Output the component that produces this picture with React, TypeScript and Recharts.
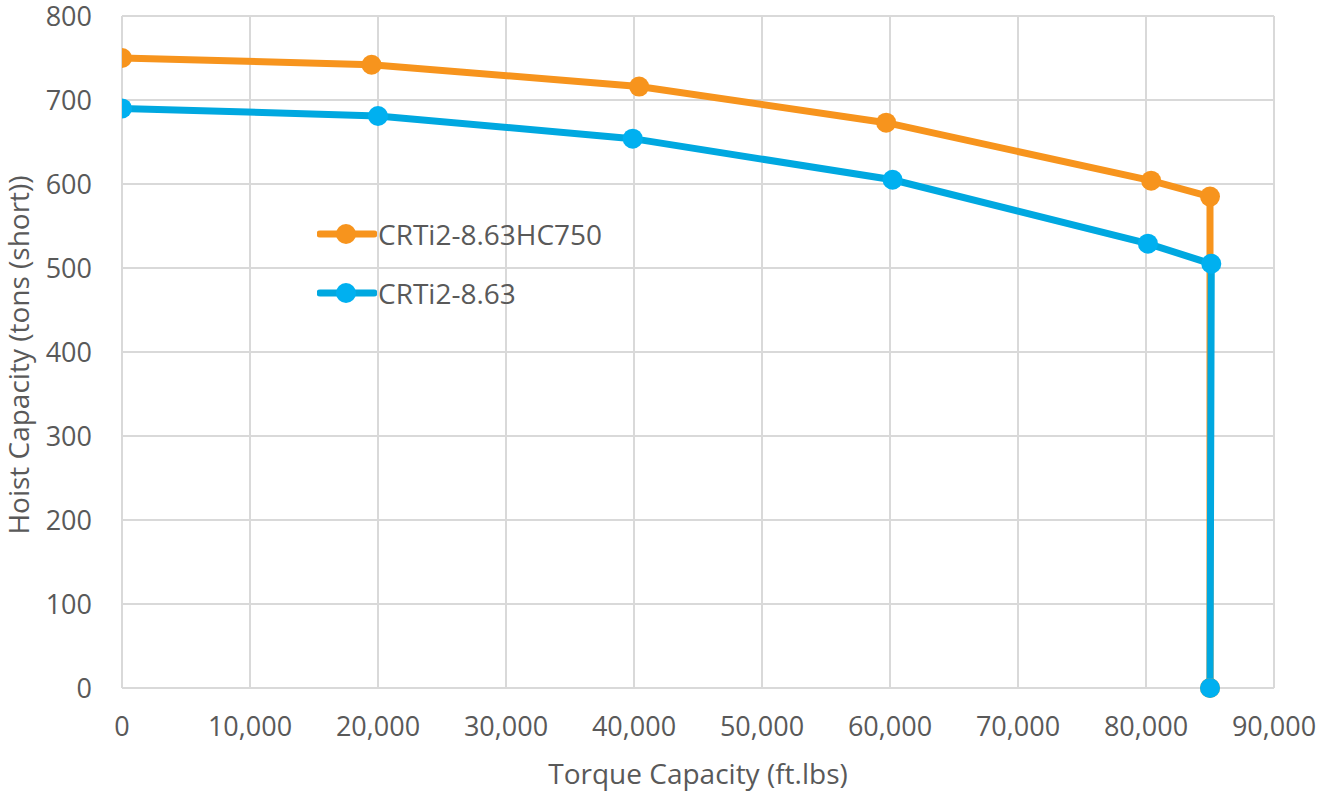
import { LineChart, Line, XAxis, YAxis, CartesianGrid, Legend } from 'recharts';

const hc750Torque = [0, 19500, 40400, 59700, 80400, 85000, 85000];
const hc750Hoist = [750, 742, 716, 673, 604, 585, 0];

const std863Torque = [0, 20000, 39900, 60200, 80150, 85100, 85000];
const std863Hoist = [690, 681, 654, 605, 529, 505, 0];

const xTicks = [0, 10000, 20000, 30000, 40000, 50000, 60000, 70000, 80000, 90000];
const yTicks = [0, 100, 200, 300, 400, 500, 600, 700, 800];

const seriesNames = ['CRTi2-8.63HC750', 'CRTi2-8.63'];

const ORANGE = '#F7941D';
const BLUE_LINE = '#00A8E0';
const BLUE_DOT = '#00B0F0';
const GRID = '#D9D9D9';
const TEXT = '#595959';
const FONT = '"Open Sans", sans-serif';

const hc750 = hc750Torque.map((t, i) => ({ torque: t, hoist: hc750Hoist[i] }));
const std863 = std863Torque.map((t, i) => ({ torque: t, hoist: std863Hoist[i] }));

const fmt = (v: number) => v.toLocaleString('en-US');

const LegendBox = () => {
  const items = [
    { name: seriesNames[0], line: ORANGE, dot: ORANGE },
    { name: seriesNames[1], line: BLUE_LINE, dot: BLUE_DOT },
  ];
  return (
    <div style={{ fontFamily: FONT, fontSize: 28, color: TEXT }}>
      {items.map((it) => (
        <div key={it.name} style={{ display: 'flex', alignItems: 'center', height: 59 }}>
          <svg width={60} height={24} style={{ marginRight: 1 }}>
            <line x1={3} y1={12} x2={57} y2={12} stroke={it.line} strokeWidth={7} strokeLinecap="round" />
            <circle cx={29} cy={12} r={10} fill={it.dot} />
          </svg>
          <span>{it.name}</span>
        </div>
      ))}
    </div>
  );
};

const YLabel = (props: any) => {
  const vb = props.viewBox || {};
  const cx = 18;
  const cy = vb.y + vb.height / 2 + 3;
  return (
    <text
      x={cx}
      y={cy}
      transform={`rotate(-90, ${cx}, ${cy})`}
      textAnchor="middle"
      dominantBaseline="central"
      fill={TEXT}
      fontFamily={FONT}
      fontSize={28}
    >
      Hoist Capacity (tons (short))
    </text>
  );
};

const App = () => {
  return (
    <div style={{ position: 'fixed', left: 0, top: 0, background: '#fff' }}>
      <LineChart width={1317} height={793} margin={{ top: 16, right: 43, left: 0, bottom: 0 }}>
        <CartesianGrid stroke={GRID} strokeWidth={2} />
        <XAxis
          type="number"
          dataKey="torque"
          domain={[0, 90000]}
          ticks={xTicks}
          tickFormatter={fmt}
          allowDataOverflow
          height={105}
          tickLine={false}
          tickSize={0}
          tickMargin={29}
          axisLine={{ stroke: GRID, strokeWidth: 2 }}
          tick={{ fill: TEXT, fontSize: 27, fontFamily: FONT }}
          label={{
            value: 'Torque Capacity (ft.lbs)',
            position: 'insideBottom',
            offset: 9,
            fill: TEXT,
            fontSize: 28,
            fontFamily: FONT,
          }}
        />
        <YAxis
          type="number"
          dataKey="hoist"
          domain={[0, 800]}
          ticks={yTicks}
          width={122}
          tickLine={false}
          tickSize={0}
          tickMargin={30}
          axisLine={{ stroke: GRID, strokeWidth: 2 }}
          tick={{ fill: TEXT, fontSize: 27, fontFamily: FONT }}
          label={<YLabel />}
        />
        <Legend
          layout="vertical"
          align="center"
          verticalAlign="middle"
          content={<LegendBox />}
          wrapperStyle={{ left: 317, top: 204, width: 'auto' }}
        />
        <Line
          data={hc750}
          dataKey="hoist"
          name={seriesNames[0]}
          stroke={ORANGE}
          strokeWidth={7}
          dot={{ r: 10, fill: ORANGE, stroke: ORANGE, strokeWidth: 0 }}
          activeDot={false}
          isAnimationActive={false}
        />
        <Line
          data={std863}
          dataKey="hoist"
          name={seriesNames[1]}
          stroke={BLUE_LINE}
          strokeWidth={7}
          dot={{ r: 10, fill: BLUE_DOT, stroke: BLUE_DOT, strokeWidth: 0 }}
          activeDot={false}
          isAnimationActive={false}
        />
      </LineChart>
    </div>
  );
};

export default App;
